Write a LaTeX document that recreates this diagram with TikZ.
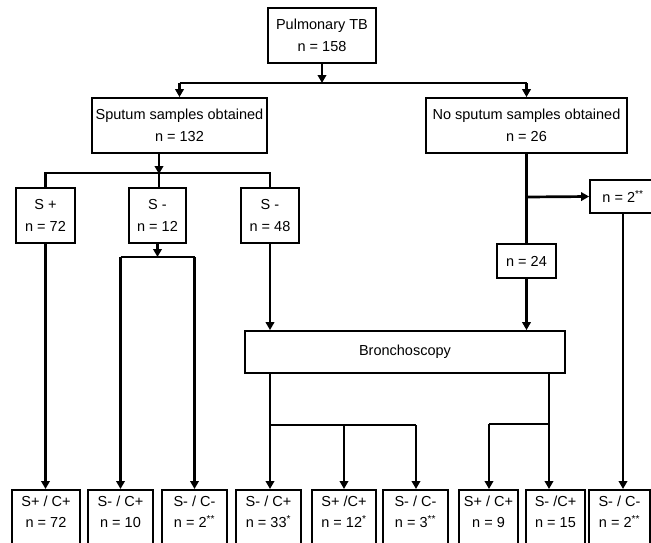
\documentclass[tikz,border=0pt]{standalone}
\usepackage{fontspec}
\setmainfont{Liberation Sans}
\usetikzlibrary{arrows.meta}
\newcommand\sast[1]{\textsuperscript{#1}}
\begin{document}
\begin{tikzpicture}[x=1pt,y=-1pt,
  box/.style={draw,line width=1.8pt,align=center,inner sep=0pt,font=\fontsize{14.5}{22}\selectfont},
  lbl/.style={align=center,inner sep=0pt,font=\fontsize{14.5}{21}\selectfont},
  conn/.style={line width=2.7pt},
  arr/.style={conn,-{Triangle[length=8pt,width=8.5pt]}}]
\useasboundingbox (0,0) rectangle (651,542);

% upper boxes
\node[box,minimum width=108,minimum height=55] (top) at (322,35.5) {Pulmonary TB\\n = 158};
\node[box,minimum width=175,minimum height=55] (spu) at (179.5,125.5) {Sputum samples obtained\\n = 132};
\node[box,minimum width=201,minimum height=55] (nos) at (526.5,125.5) {No sputum samples obtained\\n = 26};
\node[box,minimum width=59,minimum height=55] (sp) at (45.5,215.5) {S +\\n = 72};
\node[box,minimum width=57,minimum height=55] (sm) at (157.5,215.5) {S -\\n = 12};
\node[box,minimum width=58,minimum height=55] (sn) at (270,215.5) {S -\\n = 48};
\node[box,minimum width=66,minimum height=33] (n2) at (623,196.5) {n = 2\sast{**}};
\node[box,minimum width=59,minimum height=34] (n24) at (526.5,261) {n = 24};
\node[box,minimum width=320,minimum height=42] (br) at (405,352) {Bronchoscopy};

% bottom boxes
\foreach \nm/\xx/\ww in {b1/46/68,b2/120.5/65,b3/194.5/65,b4/268.5/65,b5/344/64,b6/415.5/65,b7/488.5/59,b8/555.5/59,b9/619.5/61}{
  \node[box,minimum width=\ww,minimum height=62,anchor=north] (\nm) at (\xx,489) {};
}
\node[lbl] (b1t) at (46,512) {S+ / C+\\n = 72};
\node[lbl] (b2t) at (120.5,512) {S- / C+\\n = 10};
\node[lbl] (b3t) at (194.5,512) {S- / C-\\n = 2\sast{**}};
\node[lbl] (b4t) at (268.5,512) {S- / C+\\n = 33\sast{*}};
\node[lbl] (b5t) at (344,512) {S+ /C+\\n = 12\sast{*}};
\node[lbl] (b6t) at (415.5,512) {S- / C-\\n = 3\sast{**}};
\node[lbl] (b7t) at (488.5,512) {S+ / C+\\n = 9};
\node[lbl] (b8t) at (555.5,512) {S- /C+\\n = 15};
\node[lbl] (b9t) at (619.5,512) {S- / C-\\n = 2\sast{**}};

% junction coordinates
\coordinate (jl) at (179.5,83);
\coordinate (jr) at (526.5,83);
\coordinate (hL) at (45.5,173);
\coordinate (hM) at (159,173);
\coordinate (hR) at (270,173);
\coordinate (h3L) at (120.5,257);
\coordinate (h3R) at (194.5,257);
\coordinate (bs) at (526.5,197);
\coordinate (jA) at (270,425);
\coordinate (jB) at (344,425);
\coordinate (jC) at (416,425);
\coordinate (jD) at (489,424);
\coordinate (jE) at (549,424);

% connectors
\draw[arr] (top.south) -- (top.south |- jl);
\draw[conn] (jl) -- (jr);
\draw[arr] (jl) -- (jl |- spu.north);
\draw[arr] (jr) -- (jr |- nos.north);

\draw[arr] (spu.south -| hM) -- ([yshift=-1]hM);
\draw[conn] (sp.north) -- (hL) -- (hR) -- (sn.north);
\draw[conn] (hM) -- (hM |- sm.north);

\draw[arr] (sp.south) -- (sp.south |- b1.north);
\draw[arr] (sm.south) -- (sm.south |- h3L);
\draw[conn] (h3L) -- (h3R);
\draw[arr] (h3L) -- (b2.north);
\draw[arr] (h3R) -- (b3.north);
\draw[arr] (sn.south) -- (sn.south |- br.north);

\draw[conn] (nos.south) -- (n24.north);
\draw[arr] (bs) -- (n2.west);
\draw[arr] (n24.south) -- (n24.south |- br.north);
\draw[arr] (n2.south) -- (n2.south |- b9.north);

\draw[conn] (br.south -| jA) -- (jA) -- (jC);
\draw[arr] (jA) -- (jA |- b4.north);
\draw[arr] (jB) -- (b5.north);
\draw[arr] (jC) -- (jC |- b6.north);
\draw[conn] (br.south -| jE) -- (jE) -- (jD);
\draw[arr] (jD) -- (jD |- b7.north);
\draw[arr] (jE) -- (jE |- b8.north);
\end{tikzpicture}
\end{document}
